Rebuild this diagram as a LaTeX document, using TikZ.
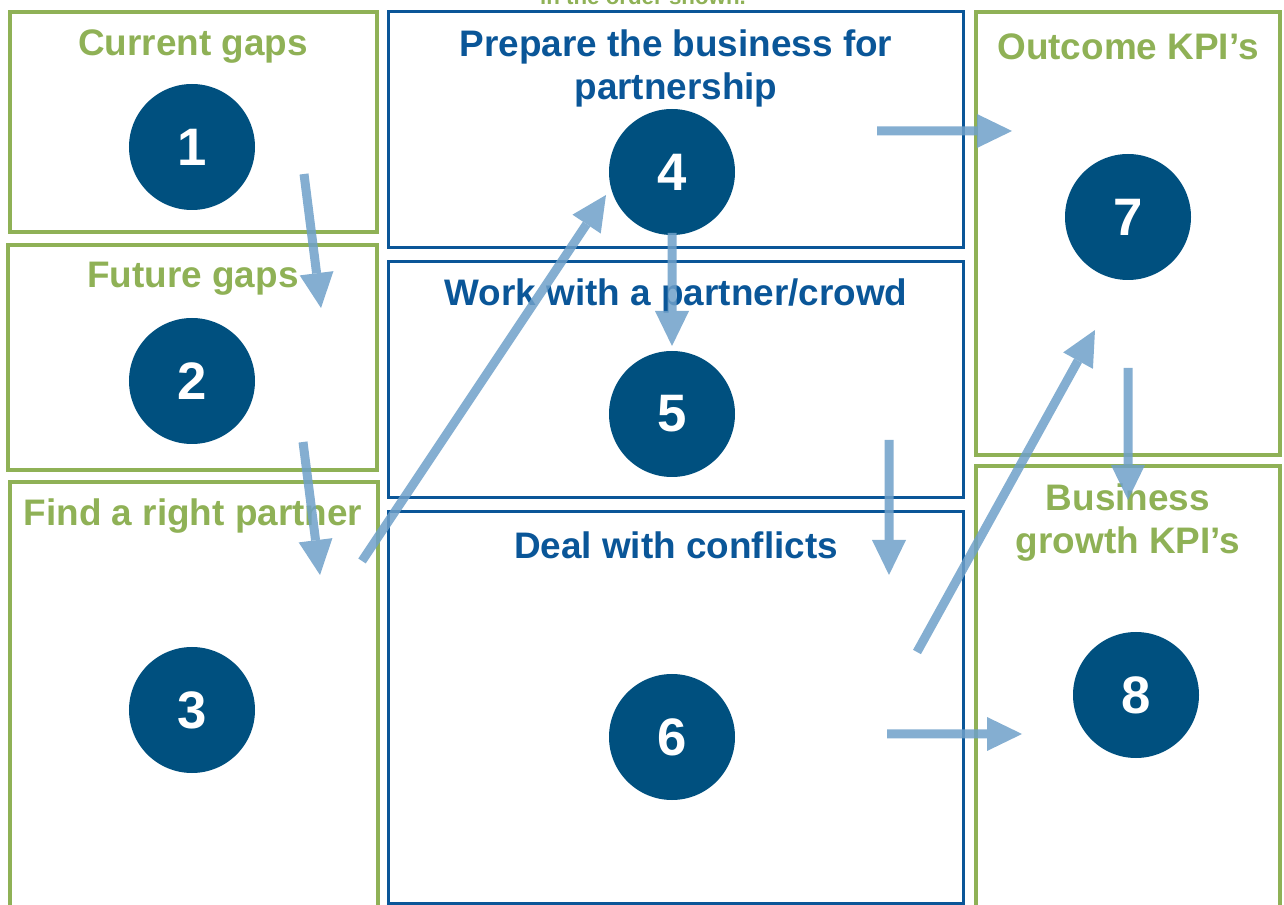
\documentclass[tikz,border=0pt]{standalone}
\usepackage{fontspec}
\setmainfont{Liberation Sans}
\usetikzlibrary{arrows.meta,positioning}

\definecolor{gapgreen}{RGB}{143,177,86}
\definecolor{stepblue}{RGB}{10,86,152}
\definecolor{dotblue}{RGB}{0,80,127}
\definecolor{flowblue}{RGB}{110,160,201}

\begin{document}
\begin{tikzpicture}[
    x=0.2mm, y=-0.2mm,
    gbox/.style={draw=gapgreen, line width=0.8mm, inner sep=0pt},
    bbox/.style={draw=stepblue, line width=0.6mm, inner sep=0pt},
    gtitle/.style={text=gapgreen, font=\fontsize{21}{24.5}\selectfont\bfseries, align=center, inner sep=0pt},
    btitle/.style={text=stepblue, font=\fontsize{21}{24.5}\selectfont\bfseries, align=center, inner sep=0pt},
    dot/.style={circle, fill=dotblue, text=white, minimum size=25.2mm, inner sep=0pt, font=\fontsize{30}{30}\selectfont\bfseries},
    flow/.style={-{Triangle[length=7mm, width=6.8mm, line width=0pt]}, draw=flowblue, fill=flowblue, line width=1.8mm}
  ]
    \clip (0,0) rectangle (1284,905);

    % left column: gaps and partner search
    \node[gbox, minimum width=73.4mm, minimum height=44mm] (g1) at (193.5,122) {};
    \node[gbox, minimum width=73.8mm, minimum height=45mm] (g2) at (192.5,357.5) {};
    \node[gbox, minimum width=73.6mm, minimum height=89.6mm] (g3) at (194,706) {};

    % middle column: working with the partner
    \node[bbox, minimum width=114.8mm, minimum height=47.2mm] (b4) at (676,130) {};
    \node[bbox, minimum width=114.8mm, minimum height=47.2mm] (b5) at (676,380) {};
    \node[bbox, minimum width=114.8mm, minimum height=78.2mm] (b6) at (676,707.5) {};

    % right column: KPIs
    \node[gbox, minimum width=60.8mm, minimum height=88.6mm] (g7) at (1128,233.5) {};
    \node[gbox, minimum width=60.8mm, minimum height=92.8mm] (g8) at (1128,698) {};

    \node[gtitle, anchor=base, font=\fontsize{12.7}{14}\selectfont\bfseries] (note) at (643,5) {in the order shown.};

    \node[gtitle] (t1) at (193,47) {Current gaps};
    \node[gtitle] (t2) at (193,279) {Future gaps};
    \node[gtitle] (t3) at (193,516) {Find a right partner};
    \node[btitle] (t4) at (676,68) {Prepare the business for\\partnership};
    \node[btitle] (t5) at (676,296) {Work with a partner/crowd};
    \node[btitle] (t6) at (676,545) {Deal with conflicts};
    \node[gtitle] (t7) at (1128,47) {Outcome KPI’s};
    \node[gtitle] (t8) at (1128,523) {Business\\growth KPI’s};

    \node[dot] (c1) at (192,147) {1};
    \node[dot] (c2) at (192,381) {2};
    \node[dot] (c3) at (192,710) {3};
    \node[dot] (c4) at (672,172) {4};
    \node[dot] (c5) at (672,414) {5};
    \node[dot] (c6) at (672,737) {6};
    \node[dot] (c7) at (1128,217) {7};
    \node[dot] (c8) at (1136,695) {8};

    % arrow ends
    \coordinate (a1s) at (304,174);  \coordinate (a1e) at (321,308);
    \coordinate (a2s) at (303,442);  \coordinate (a2e) at (320,575);
    \coordinate (a3s) at (362,561);  \coordinate (a3e) at (606,195);
    \coordinate (a4s) at (672,233);  \coordinate (a4e) at (672,346);
    \coordinate (a5s) at (877,131);  \coordinate (a5e) at (1012,131);
    \coordinate (a6s) at (889,440);  \coordinate (a6e) at (889,575);
    \coordinate (a7s) at (917,652);  \coordinate (a7e) at (1095,330);
    \coordinate (a8s) at (1128,368); \coordinate (a8e) at (1128,500);
    \coordinate (a9s) at (887,734);  \coordinate (a9e) at (1022,734);

    % see-through flow arrows
    \foreach \i in {1,...,9}{
      \begin{scope}[transparency group, opacity=0.85]
        \draw[flow] (a\i s) -- (a\i e);
      \end{scope}
    }
\end{tikzpicture}
\end{document}
